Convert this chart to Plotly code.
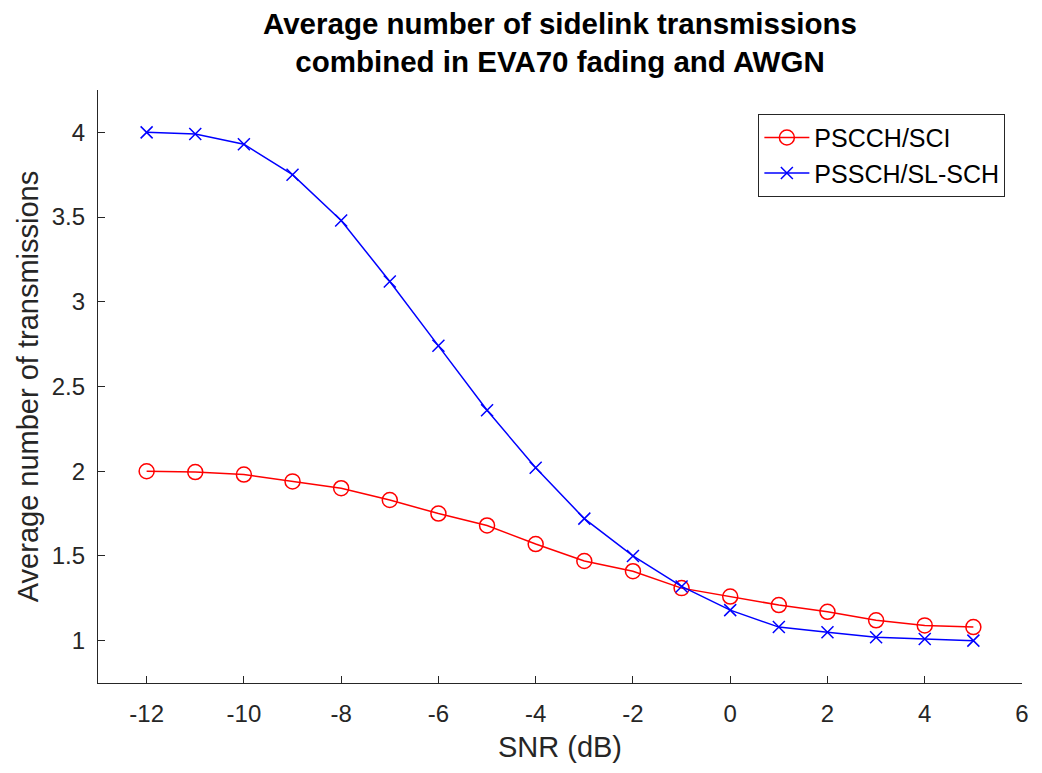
import plotly.graph_objects as go

snr = [-12, -11, -10, -9, -8, -7, -6, -5, -4, -3, -2, -1, 0, 1, 2, 3, 4, 5]
pscch = [2.00, 1.995, 1.98, 1.94, 1.90, 1.83, 1.75, 1.68, 1.57, 1.47, 1.41, 1.31, 1.26, 1.21, 1.17, 1.12, 1.09, 1.08]
pssch = [4.00, 3.99, 3.93, 3.75, 3.48, 3.12, 2.74, 2.36, 2.02, 1.72, 1.50, 1.32, 1.18, 1.08, 1.05, 1.02, 1.01, 1.00]

x_ticks = [-12, -10, -8, -6, -4, -2, 0, 2, 4, 6]
x_labels = ["-12", "-10", "-8", "-6", "-4", "-2", "0", "2", "4", "6"]
y_ticks = [1, 1.5, 2, 2.5, 3, 3.5, 4]
y_labels = ["1", "1.5", "2", "2.5", "3", "3.5", "4"]

title_text = "<b>Average number of sidelink transmissions<br>combined in EVA70 fading and AWGN</b>"

font = "Liberation Sans, Arial, Helvetica, sans-serif"
axcol = "#262626"

fig = go.Figure()
fig.add_trace(go.Scatter(
    x=snr, y=pscch, mode="lines+markers", name="PSCCH/SCI",
    line=dict(color="#ff0000", width=1.5),
    marker=dict(symbol="circle-open", size=15, color="#ff0000", line=dict(width=1.5)),
))
fig.add_trace(go.Scatter(
    x=snr, y=pssch, mode="lines+markers", name="PSSCH/SL-SCH",
    line=dict(color="#0000ff", width=1.5),
    marker=dict(symbol="x-thin-open", size=12, color="#0000ff", line=dict(width=1.5, color="#0000ff")),
))

# the page places the figure 8px from the top-left corner
fig.update_layout(
    width=1042, height=773,
    paper_bgcolor="white", plot_bgcolor="white",
    margin=dict(l=90, r=28, t=82, b=98),
    font=dict(family=font, color=axcol),
    legend=dict(
        x=0.982, xanchor="right", y=0.96, yanchor="top",
        bordercolor=axcol, borderwidth=1, bgcolor="white",
        font=dict(size=25, color="#000000"),
        tracegroupgap=0, itemwidth=45,
    ),
    showlegend=True,
    annotations=[dict(
        text=title_text, x=0.5, xref="paper", xanchor="center",
        y=1 + 48 / 593, yref="paper", yanchor="middle",
        showarrow=False, font=dict(size=29.5, color="#000000", family=font),
    )],
)
fig.update_xaxes(
    range=[-13, 6], tickvals=x_ticks, ticktext=x_labels, ticks="inside", ticklen=7,
    tickcolor=axcol, showline=True, linecolor=axcol, linewidth=1.2,
    showgrid=False, zeroline=False, tickfont=dict(size=24, color=axcol),
    automargin=False, ticklabelstandoff=9,
    title=dict(text="SNR (dB)", font=dict(size=29, color=axcol), standoff=10),
)
fig.update_yaxes(
    range=[0.75, 4.25], tickvals=y_ticks, ticktext=y_labels, ticks="inside", ticklen=7,
    tickcolor=axcol, showline=True, linecolor=axcol, linewidth=1.2,
    showgrid=False, zeroline=False, tickfont=dict(size=24, color=axcol),
    automargin=False, ticklabelstandoff=7,
    title=dict(text="Average number of transmissions", font=dict(size=29, color=axcol), standoff=4),
)

fig.write_html("out.html")
